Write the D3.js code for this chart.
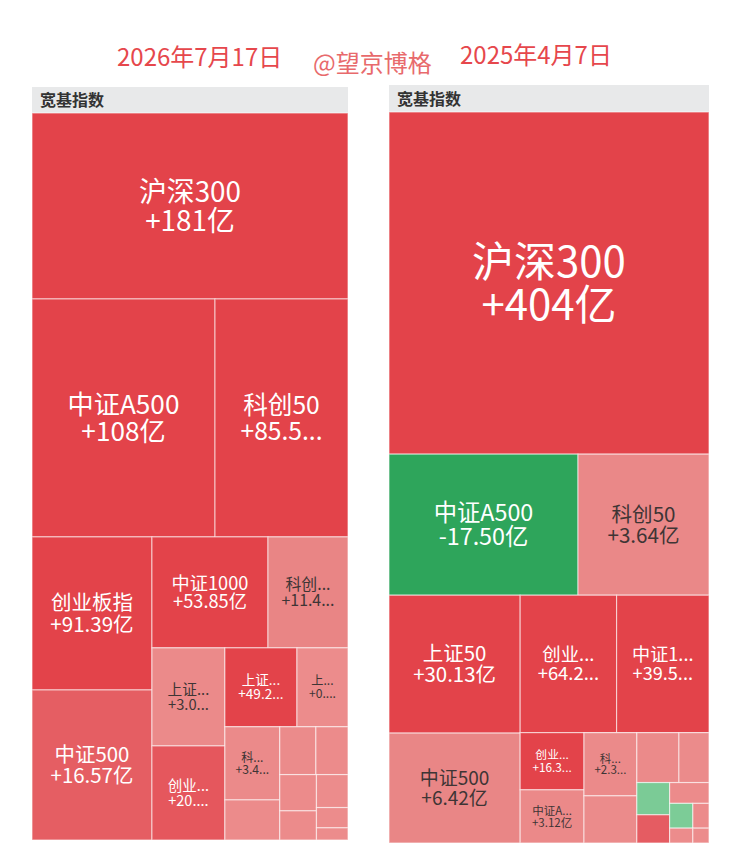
<!DOCTYPE html>
<html>
  <head>
    <meta charset="utf-8">
    <title>宽基指数 资金流向</title>
    <script src="https://cdn.jsdelivr.net/npm/d3@7"></script>
    <style>
      body { margin: 0; background: #fff; }
      svg { display: block; font-family: "Noto Sans CJK SC", "Noto Sans", sans-serif; }
    </style>
  </head>

  <body>
    <svg id="chart" width="734" height="861"></svg>

    <script>
      // data: left panel, 2026-07-17 (size = cell area, flow = net inflow in 亿)
      leftDate = "2026年7月17日";
      leftNames = ["沪深300", "中证A500", "科创50", "创业板指", "中证500", "中证1000", "科创综指", "上证180",
        "创业板50", "上证指数", "上证380", "科创100", "中证2000", "深证100", "中证100", "红利指数",
        "深证成指", "中证800", "上证红利", "国证2000"];
      leftSizes = [58776, 43554, 31654, 18360, 18000, 12876, 8880, 7154, 6862, 5688, 4029, 4015,
        2200, 1728, 1536, 1332, 1070, 1040, 640, 384];
      leftFlows = [181.2, 108.3, 85.52, 91.39, 16.57, 53.85, 11.46, 3.02, 20.13, 49.26, 0.85, 3.41,
        1.62, 2.14, 1.35, 0.92, 1.48, 0.76, 0.53, 0.31];
      leftShade = [0, 12, 17, 40];

      // data: right panel, 2025-04-07
      rightDate = "2025年4月7日";
      rightNames = ["沪深300", "中证A500", "科创50", "上证50", "中证500", "创业板指", "中证1000", "创业板50",
        "中证A100", "科创100", "中证2000", "深证100", "中证100", "红利指数", "上证指数", "深证成指",
        "中证800", "科创综指", "上证180", "国证2000"];
      rightSizes = [109440, 26649, 18471, 18078, 14410, 13248, 12696, 3648, 3392, 3339, 2491, 2100,
        1500, 1056, 924, 820, 575, 400, 345, 240];
      rightFlows = [404.3, -17.50, 3.64, 30.13, 6.42, 64.21, 39.57, 16.38, 3.12, 2.35, 1.46, 2.07,
        1.21, -1.12, 9.85, 0.94, -0.87, 0.62, 0.48, 0.33];
      rightShade = [0, 7, 10, 15];

      groupTitle = "宽基指数";
      author = "@望京博格";

      // elements
      svg = d3.select("#chart");

      locale = d3.formatLocale({ decimal: ".", thousands: ",", grouping: [3], currency: ["", ""], minus: "-" });
      fmtBig = locale.format("+.0f");
      fmtSmall = locale.format("+.2f");
      function fmt(v) { return (Math.abs(v) >= 100 ? fmtBig(v) : fmtSmall(v)) + "亿"; }

      // label size grows with the square root of the cell area
      fontSize = d3.scaleLinear()
        .domain([58, 120, 175, 245, 331])
        .range([11.5, 19, 24.5, 28, 42])
        .clamp(true);

      negColour = d3.scaleLinear()
        .domain([0, -2, -15])
        .range(["#80ce9a", "#77c993", "#2ea55b"])
        .clamp(true);

      // titles
      svg.append("text")
        .attr("x", 117).attr("y", 66)
        .attr("font-size", 24).attr("fill", "#e6474c")
        .text(leftDate);
      svg.append("text")
        .attr("x", 313).attr("y", 72)
        .attr("font-size", 24).attr("fill", "#e86a6c")
        .text(author);
      svg.append("text")
        .attr("x", 460).attr("y", 64)
        .attr("font-size", 24).attr("fill", "#e6474c")
        .text(rightDate);

      drawPanel({ x: 32, y: 87, width: 316, header: 26, height: 727,
        names: leftNames, sizes: leftSizes, flows: leftFlows, shade: leftShade });
      drawPanel({ x: 389, y: 85, width: 320, header: 27, height: 731,
        names: rightNames, sizes: rightSizes, flows: rightFlows, shade: rightShade });

      function drawPanel(p) {
        let g = svg.append("g")
          .attr("transform", "translate(" + p.x + "," + p.y + ")");

        g.append("rect")
          .attr("width", p.width)
          .attr("height", p.header)
          .attr("fill", "#e8e9ea");
        g.append("text")
          .attr("x", 8).attr("y", p.header - 7)
          .attr("font-size", 16).attr("font-weight", "bold").attr("fill", "#333")
          .text(groupTitle);

        let posColour = d3.scaleLinear()
          .domain(p.shade)
          .range(["#ec8c8c", "#e98585", "#e55a60", "#e3434a"])
          .clamp(true);
        let colour = function(v) { return v < 0 ? negColour(v) : posColour(v); };
        let light = function(v) { return v >= 0 ? v < p.shade[1] : v > -5; };

        let root = d3.hierarchy({
            children: p.names.map(function(n, i) { return { name: n, size: p.sizes[i], flow: p.flows[i] }; })
          })
          .sum(function(d) { return d.size || 0; })
          .sort(function(a, b) { return b.value - a.value; });

        d3.treemap()
          .tile(d3.treemapSquarify.ratio(1))
          .size([p.width, p.height])(root);

        let map = g.append("g")
          .attr("transform", "translate(0," + p.header + ")");

        let cells = map.selectAll(".cell")
            .data(root.leaves())
          .enter().append("g")
            .classed("cell", true)
            .attr("transform", function(d) { return "translate(" + d.x0 + "," + d.y0 + ")"; });

        cells.append("rect")
          .attr("width", function(d) { return d.x1 - d.x0; })
          .attr("height", function(d) { return d.y1 - d.y0; })
          .attr("fill", function(d) { return colour(d.data.flow); })
          .attr("stroke", "rgba(255,255,255,0.55)")
          .attr("stroke-width", 1.2);

        cells.filter(function(d) { return Math.min(d.x1 - d.x0, d.y1 - d.y0) >= 50; })
          .each(function(d) {
            let w = d.x1 - d.x0, h = d.y1 - d.y0;
            let f = fontSize(Math.sqrt(w * h));
            let avail = w * 0.78 - 9;
            let cx = w / 2, cy = h / 2;
            let fill = light(d.data.flow) ? "#3e3535" : "#fff";
            let cell = d3.select(this);
            [[d.data.name, cy - 0.15 * f], [fmt(d.data.flow), cy + 0.88 * f]].forEach(function(line) {
              let t = cell.append("text")
                .attr("x", cx).attr("y", line[1])
                .attr("text-anchor", "middle")
                .attr("font-size", f)
                .attr("fill", fill)
                .text(line[0]);
              fit(t, line[0], avail);
            });
          });
      }

      // cut text to width with "..."
      function fit(t, s, avail) {
        if (t.node().getComputedTextLength() <= avail) return;
        let n = s.length - 1;
        while (n > 1) {
          t.text(s.slice(0, n) + "...");
          if (t.node().getComputedTextLength() <= avail) return;
          n--;
        }
        t.text(s.slice(0, 1) + "...");
      }
    </script>
  </body>
</html>
